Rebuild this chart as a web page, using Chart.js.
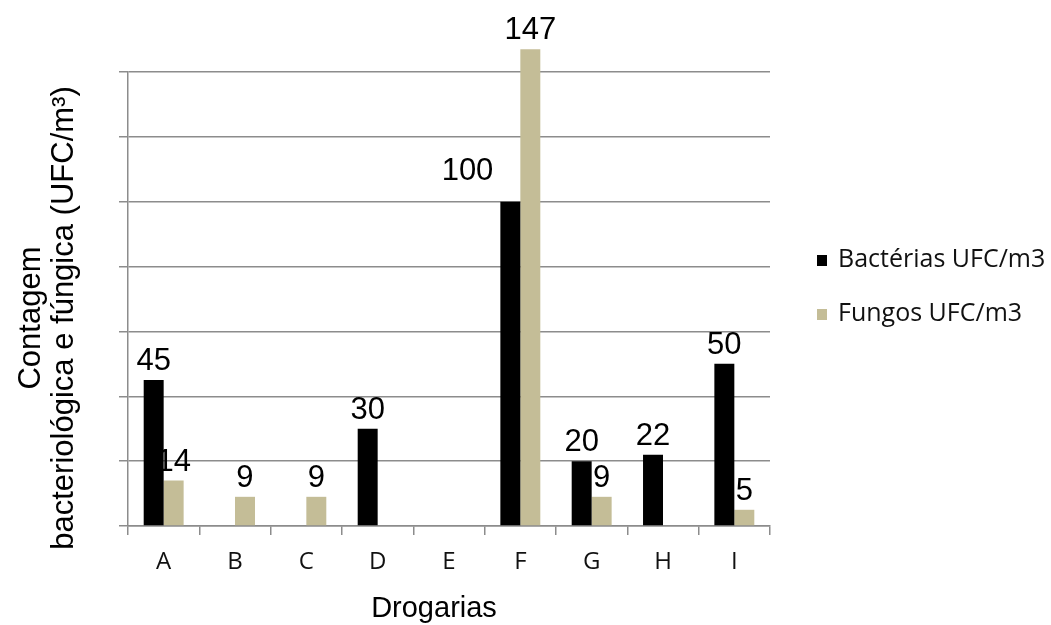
<!DOCTYPE html>
<html>
<head>
<meta charset="utf-8">
<script src="https://cdn.jsdelivr.net/npm/chart.js@4"></script>
<style>
  body { margin: 0; background: #fff; }
</style>
</head>
<body>
<canvas id="chart" width="1051" height="625"></canvas>
<script>
const categories = ["A", "B", "C", "D", "E", "F", "G", "H", "I"];
const bacterias = [45, null, null, 30, null, 100, 20, 22, 50];
const fungos = [14, 9, 9, null, null, 147, 9, null, 5];
const seriesLabels = ["Bactérias UFC/m3", "Fungos UFC/m3"];
const xTitle = "Drogarias";
const yTitle = ["Contagem", "bacteriológica e fúngica (UFC/m³)"];

const gridColor = "#8c8c8c";

// value labels over each bar; a label that would run into a taller
// neighbour bar is pushed up and to the left of its own bar
const valueLabels = {
  id: "valueLabels",
  afterDatasetsDraw(chart) {
    const ctx = chart.ctx;
    ctx.save();
    ctx.font = "31px 'Liberation Sans', Arial, sans-serif";
    ctx.fillStyle = "#000";
    ctx.textBaseline = "alphabetic";
    const metas = chart.data.datasets.map((ds, i) => chart.getDatasetMeta(i));
    chart.data.datasets.forEach((ds, i) => {
      metas[i].data.forEach((bar, j) => {
        const v = ds.data[j];
        if (v === null) return;
        const text = String(v);
        const w = ctx.measureText(text).width;
        const y = bar.y - 10;
        const next = metas[i + 1] && metas[i + 1].data[j];
        const nextVal = chart.data.datasets[i + 1] && chart.data.datasets[i + 1].data[j];
        if (next && nextVal !== null && next.y < y && w / 2 > bar.width / 2) {
          ctx.textAlign = "right";
          ctx.fillText(text, bar.x - bar.width / 2 - 7, y - 12);
        } else {
          ctx.textAlign = "center";
          ctx.fillText(text, bar.x, y);
        }
      });
    });
    ctx.restore();
  }
};

// axis titles and legend drawn by hand so they sit where the original has them
const extras = {
  id: "extras",
  afterDraw(chart) {
    const ctx = chart.ctx;
    ctx.save();
    ctx.fillStyle = "#000";

    ctx.font = "29px 'Liberation Sans', Arial, sans-serif";
    ctx.textAlign = "center";
    ctx.textBaseline = "alphabetic";
    ctx.fillText(xTitle, 434, 617);

    ctx.translate(0, 318);
    ctx.rotate(-Math.PI / 2);
    ctx.font = "31px 'Liberation Sans', Arial, sans-serif";
    ctx.textBaseline = "middle";
    ctx.fillText(yTitle[0], 0, 31);
    ctx.fillText(yTitle[1], 0, 64);
    ctx.setTransform(1, 0, 0, 1, 0, 0);

    const rows = [260, 314];
    ctx.font = "25px 'Open Sans', sans-serif";
    ctx.textAlign = "left";
    ctx.textBaseline = "middle";
    chart.data.datasets.forEach((ds, i) => {
      ctx.fillStyle = ds.backgroundColor;
      ctx.fillRect(817, rows[i] - 5, 10, 11);
      ctx.fillStyle = "#111";
      ctx.fillText(ds.label, 838, rows[i]);
    });
    ctx.restore();
  }
};

new Chart(document.getElementById("chart"), {
  type: "bar",
  data: {
    labels: categories,
    datasets: [
      { label: seriesLabels[0], data: bacterias, backgroundColor: "#000000", clip: false },
      { label: seriesLabels[1], data: fungos, backgroundColor: "#c4bd97", clip: false }
    ]
  },
  options: {
    responsive: false,
    animation: false,
    events: [],
    layout: { padding: { left: 0, right: 281, top: 72, bottom: 0 } },
    datasets: { bar: { categoryPercentage: 0.56, barPercentage: 1 } },
    plugins: {
      legend: { display: false },
      tooltip: { enabled: false }
    },
    scales: {
      x: {
        grid: { drawOnChartArea: false, drawTicks: true, tickLength: 9, color: gridColor, lineWidth: 1.5 },
        border: { color: gridColor, width: 1.5 },
        ticks: { color: "#111", font: { family: "'Open Sans', sans-serif", size: 24 }, padding: 13 },
        afterFit(scale) { scale.height = 99; }
      },
      y: {
        min: 0,
        max: 140,
        ticks: { display: false, stepSize: 20 },
        grid: { color: gridColor, lineWidth: 1.5, tickLength: 9 },
        border: { color: gridColor, width: 1.5 },
        afterFit(scale) { scale.width = 128; }
      }
    }
  },
  plugins: [valueLabels, extras]
});
</script>
</body>
</html>
